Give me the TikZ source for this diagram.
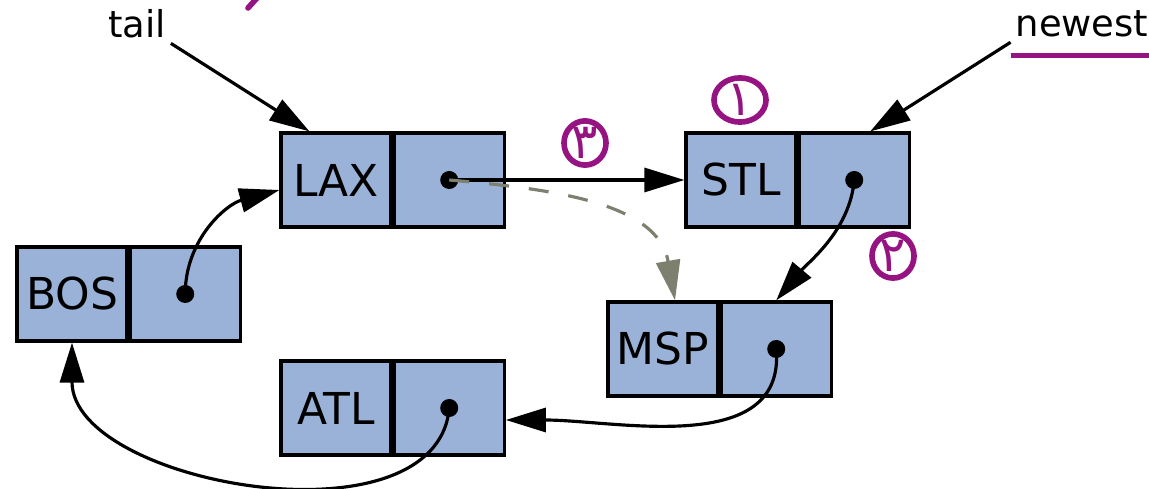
\documentclass[tikz,border=0pt]{standalone}
\usepackage{fontspec}
\setmainfont{DejaVu Sans}
\newfontfamily\arabicfont[Script=Arabic]{DejaVu Sans}
\usetikzlibrary{arrows.meta,positioning,shapes.geometric}
\definecolor{boxblue}{RGB}{155,178,216}
\definecolor{oldlink}{RGB}{125,128,110}
\definecolor{ink}{RGB}{150,20,130}

\tikzset{
  cell/.style={draw,fill=boxblue,line width=0.9pt,minimum width=1.1cm,
    minimum height=0.94cm,inner sep=0pt,font=\fontsize{12.5}{14}\selectfont},
  tag/.style={inner sep=1pt,font=\fontsize{10.5}{12}\selectfont},
  inkmark/.style={ellipse,draw=ink,line width=1.6pt,text=ink,inner sep=0pt,
    font=\arabicfont\fontsize{14}{16}\selectfont}
}

\begin{document}
\begin{tikzpicture}[x=0.01cm,y=-0.01cm,->,>={Triangle[length=4mm,width=2.4mm]},
  line width=0.9pt]
\useasboundingbox (0,0) rectangle (1149,489);

\node[cell] (lax) at (336,180) {LAX};
\node[cell] (laxp) [right=0pt of lax] {};
\node[cell] (stl) at (741,180) {STL};
\node[cell] (stlp) [right=0pt of stl] {};
\node[cell] (bos) at (72,294) {BOS};
\node[cell] (bosp) [right=0pt of bos] {};
\node[cell] (msp) at (663,349) {MSP};
\node[cell] (mspp) [right=0pt of msp] {};
\node[cell] (atl) at (336,408) {ATL};
\node[cell] (atlp) [right=0pt of atl] {};

\foreach \p in {laxp,stlp,bosp,mspp,atlp}
  \fill (\p.center) circle (0.09cm);

\node[tag] (tail) at (137,24) {tail};
\node[tag] (newest) at (1082,24) {newest};

\path (tail.south east) edge ([xshift=0.3cm]lax.north west);
\path (newest.south west) edge ([xshift=0.16cm]stlp.north);
\path (laxp.center) edge (stl.west);
\path[oldlink,dash pattern=on 2mm off 2mm]
  (laxp.center) edge[out=-5,in=100] ([xshift=0.12cm]msp.north);
\path (stlp.center) edge[out=-95,in=50,looseness=0.9] (mspp.north);
\path (mspp.center) edge[out=-85,in=0] ([yshift=-0.12cm]atlp.east);
\path (atlp.center) edge[out=-95,in=-90,looseness=0.95] (bos.south);
\path (bosp.center) edge[out=90,in=195] ([yshift=-0.1cm]lax.west);

% handwritten marks
\node[inkmark,minimum width=0.52cm,minimum height=0.42cm] (one) at (740,100) {١};
\node[inkmark,minimum width=0.42cm,minimum height=0.3cm] (three) at (585,143) {٣};
\node[inkmark,minimum width=0.42cm,minimum height=0.36cm] (two) at (893,256) {٢};
\draw[-,ink,line width=1.6pt] ([yshift=-0.13cm]newest.south west) -- ([yshift=-0.13cm]newest.south east);
\draw[-,ink,line width=1.6pt,line cap=round] (248,8) -- (257,-2);
\end{tikzpicture}
\end{document}
